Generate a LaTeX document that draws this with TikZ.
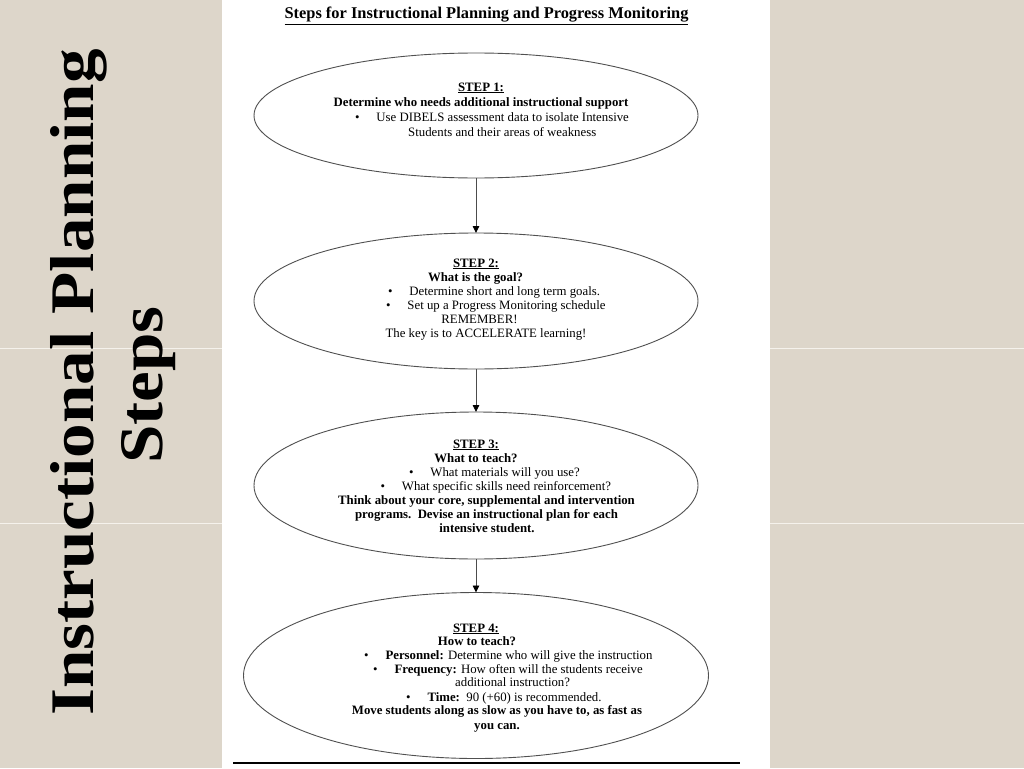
\documentclass[tikz,border=0pt]{standalone}
\usepackage{fontspec}
\usepackage{graphicx}
\setmainfont{Liberation Serif}
\usetikzlibrary{shapes.geometric,arrows.meta}
\definecolor{beige}{RGB}{221,214,202}
\definecolor{seam}{RGB}{245,242,236}
\definecolor{ellcol}{RGB}{80,80,80}
\newcommand{\myblt}{\makebox[21.5pt][l]{\textbullet}}
\begin{document}
\begin{tikzpicture}[x=1pt,y=-1pt,
  stepell/.style={ellipse,draw=ellcol,line width=0.9pt,inner sep=0pt,outer sep=0pt},
  arr/.style={draw=black!70,line width=0.9pt,-{Triangle[length=7pt,width=6.5pt,color=black]}},
  tl/.style={inner sep=0pt,anchor=base,font=\fontsize{12.8}{14}\selectfont},
  tll/.style={tl,anchor=base west},
  tb/.style={tl,font=\fontsize{12.8}{14}\selectfont\bfseries},
  rot/.style={inner sep=0pt,anchor=base,rotate=90,font=\fontsize{62}{70}\selectfont\bfseries}
]
\useasboundingbox (0,0) rectangle (1024,768);
% background
\fill[beige] (0,0) rectangle (1024,768);
\fill[white] (222,0) rectangle (770,768);
\draw[seam,line width=0.8pt] (0,348.5) -- (222,348.5) (0,523.5) -- (222,523.5);
\draw[seam,line width=0.8pt] (770,348.5) -- (1024,348.5) (770,523.5) -- (1024,523.5);

% side title
\node[rot] (side1) at (93,382.5) {\scalebox{1.115}[1]{Instructional Planning}};
\node[rot] (side2) at (162,385) {\scalebox{1.115}[1]{Steps}};

% page title
\node[tl,font=\fontsize{16.4}{18}\selectfont\bfseries] (title) at (486.5,19) {\underline{Steps for Instructional Planning and Progress Monitoring}};

% ellipses
\node[stepell,minimum width=444pt,minimum height=125pt] (e1) at (476,115.5) {};
\node[stepell,minimum width=444pt,minimum height=136pt] (e2) at (476,301) {};
\node[stepell,minimum width=444pt,minimum height=147pt] (e3) at (476,485.5) {};
\node[stepell,minimum width=465pt,minimum height=166pt] (e4) at (476,675.5) {};

\draw[arr] (e1.south) -- (e2.north);
\draw[arr] (e2.south) -- (e3.north);
\draw[arr] (e3.south) -- (e4.north);

% step 1
\node[tb] (s1a) at (481,91) {\underline{STEP 1:}};
\node[tb] (s1b) at (481,106) {Determine who needs additional instructional support};
\node[tll] (s1c) at (354.8,121) {\myblt Use DIBELS assessment data to isolate Intensive};
\node[tll] (s1d) at (408,136) {Students and their areas of weakness};

% step 2
\node[tb] (s2a) at (476,267) {\underline{STEP 2:}};
\node[tb] (s2b) at (475.5,281) {What is the goal?};
\node[tll] (s2c) at (387.8,295) {\myblt Determine short and long term goals.};
\node[tll] (s2d) at (385.8,309) {\myblt Set up a Progress Monitoring schedule};
\node[tl] (s2e) at (479.5,323) {REMEMBER!};
\node[tl] (s2f) at (486,337) {The key is to ACCELERATE learning!};

% step 3
\node[tb] (s3a) at (476,448) {\underline{STEP 3:}};
\node[tb] (s3b) at (476,462) {What to teach?};
\node[tll] (s3c) at (408.8,476) {\myblt What materials will you use?};
\node[tll] (s3d) at (380.3,490) {\myblt What specific skills need reinforcement?};
\node[tb] (s3e) at (486.5,504) {Think about your core, supplemental and intervention};
\node[tb] (s3f) at (486.5,518) {programs.\ \ Devise an instructional plan for each};
\node[tb] (s3g) at (487,532) {intensive student.};

% step 4
\node[tb] (s4a) at (476,632) {\underline{STEP 4:}};
\node[tb] (s4b) at (477,645) {How to teach?};
\node[tll] (s4c) at (363.8,659) {\myblt\textbf{Personnel:} Determine who will give the instruction};
\node[tll] (s4d) at (372.8,673) {\myblt\textbf{Frequency:} How often will the students receive};
\node[tll] (s4e) at (455,686) {additional instruction?};
\node[tll] (s4f) at (405.8,701) {\myblt\textbf{Time:}\ \ 90 (+60) is recommended.};
\node[tb] (s4g) at (497,714) {Move students along as slow as you have to, as fast as};
\node[tb] (s4h) at (497,729) {you can.};

% bottom rule
\coordinate (rl) at (233,763);
\coordinate (rr) at (740,763);
\draw[black,line width=2pt] (rl) -- (rr);
\end{tikzpicture}
\end{document}
